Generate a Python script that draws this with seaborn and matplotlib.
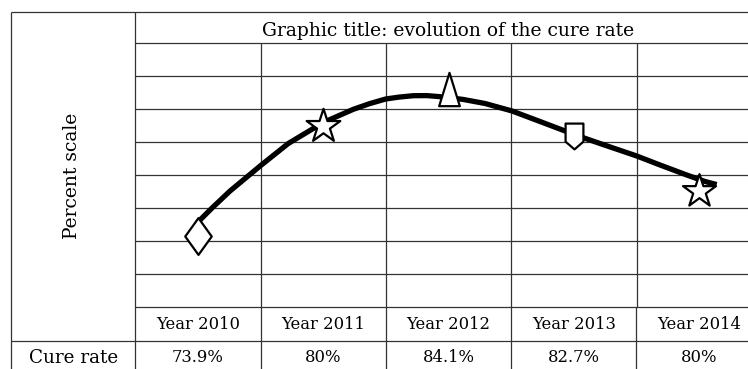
import numpy as np
import pandas as pd
import seaborn as sns
import matplotlib
matplotlib.use("Agg")
import matplotlib.pyplot as plt
from matplotlib.path import Path
from matplotlib.transforms import blended_transform_factory

# ---------------- data ----------------
years = ["Year 2010", "Year 2011", "Year 2012", "Year 2013", "Year 2014"]
cure_rate = [73.9, 80, 84.1, 82.7, 80]
cure_rate_labels = ["73.9%", "80%", "84.1%", "82.7%", "80%"]
# schematic marker heights (in grid rows from the bottom)
marker_level = [2.17, 5.48, 6.62, 5.18, 3.51]
# hand-drawn curve (x in category units, y in grid rows)
curve_x = [-0.01, 0.11, 0.256, 0.501, 0.721, 1.0, 1.24, 1.369, 1.498, 1.605,
           1.719, 1.826, 1.932, 2.115, 2.291, 2.504, 2.73, 3.025, 3.208,
           3.502, 3.688, 3.901, 4.047, 4.14]
curve_y = [2.545, 3.0, 3.524, 4.297, 4.964, 5.60, 6.0, 6.17, 6.312, 6.37,
           6.412, 6.415, 6.382, 6.30, 6.176, 5.952, 5.63, 5.206, 4.964,
           4.585, 4.312, 4.009, 3.812, 3.72]
title = "Graphic title: evolution of the cure rate"
ylabel = "Percent scale"
row_label = "Cure rate"

# ---------------- style ----------------
sns.set_theme(style="white")
plt.rcParams["font.family"] = ["DejaVu Serif"]
plt.rcParams["text.color"] = "black"

W, H = 748, 369
fig = plt.figure(figsize=(W / 100, H / 100), dpi=100)

# layout (pixels)
L, C0, COLW = 11.0, 135.3, 125.3
TOP, TBOT, PBOT, RBOT = 11.7, 43.3, 307.3, 340.7
NROWS = 8
GRID = "#333333"
LW = 0.9

# frame axes in pixel coordinates for the table structure
fr = fig.add_axes([0, 0, 1, 1], zorder=0)
fr.set_xlim(0, W)
fr.set_ylim(H, 0)
fr.axis("off")

def hline(y, x0, x1):
    fr.plot([x0, x1], [y, y], color=GRID, lw=LW, solid_capstyle="butt")

def vline(x, y0, y1):
    fr.plot([x, x], [y0, y1], color=GRID, lw=LW, solid_capstyle="butt")

hline(TOP, L, W)
hline(TBOT, C0, W)
hline(PBOT, C0, W)
hline(RBOT, L, W)
vline(L, TOP, H)
vline(C0, TOP, H)
for i in range(1, 5):
    vline(C0 + COLW * i, PBOT, H)

# plot axes (data area)
ax = fig.add_axes([C0 / W, (H - PBOT) / H, (W - C0) / W, (PBOT - TBOT) / H], zorder=1)
ax.patch.set_alpha(0)
ax.set_xlim(-0.5, -0.5 + (W - C0) / COLW)
ax.set_ylim(0, NROWS)
ax.set_xticks([i + 0.5 for i in range(len(years) - 1)])
ax.set_yticks(range(1, NROWS))
ax.tick_params(length=0, labelbottom=False, labelleft=False)
ax.grid(True, color=GRID, lw=LW)
for s in ax.spines.values():
    s.set_visible(False)

# curve
curve = pd.DataFrame({"x": curve_x, "y": curve_y})
sns.lineplot(data=curve, x="x", y="y", sort=False, color="black", lw=3.8,
             ax=ax, solid_capstyle="butt", solid_joinstyle="round", zorder=3)

# markers
diamond = Path([(0, 1), (0.72, 0), (0, -1), (-0.72, 0), (0, 1)],
               [Path.MOVETO, Path.LINETO, Path.LINETO, Path.LINETO, Path.CLOSEPOLY])
tri = Path([(0, 1), (0.62, -1), (-0.62, -1), (0, 1)],
           [Path.MOVETO, Path.LINETO, Path.LINETO, Path.CLOSEPOLY])
shield = Path([(-0.69, 1), (0.69, 1), (0.69, -0.4), (0, -1), (-0.69, -0.4), (-0.69, 1)],
              [Path.MOVETO, Path.LINETO, Path.LINETO, Path.LINETO, Path.LINETO, Path.CLOSEPOLY])
markers = [diamond, "*", tri, shield, "*"]
msizes = [26.5, 25.5, 24.0, 18.6, 25.0]
for i in range(len(years)):
    sns.scatterplot(x=[i], y=[marker_level[i]], marker=markers[i], s=msizes[i] ** 2,
                    color="white", edgecolor="black", linewidth=1.6, ax=ax,
                    zorder=5, clip_on=False)
ax.set_xlabel("")
ax.set_ylabel("")

# texts
fr.text((C0 + C0 + COLW * 5) / 2, 36, title, ha="center", va="baseline", fontsize=13.5)
fr.text(72.5, (TOP + RBOT) / 2, ylabel, rotation=90, ha="center", va="center", fontsize=13.5)
fr.text((L + C0) / 2, 363, row_label, ha="center", va="baseline", fontsize=13.2)
tr = blended_transform_factory(ax.transData, fr.transData)
for i, (yr, lab) in enumerate(zip(years, cure_rate_labels)):
    fr.text(i, 329, yr, transform=tr, ha="center", va="baseline", fontsize=11.8)
    fr.text(i, 362.5, lab, transform=tr, ha="center", va="baseline", fontsize=11.8)

fig.savefig("out.png", dpi=100)
